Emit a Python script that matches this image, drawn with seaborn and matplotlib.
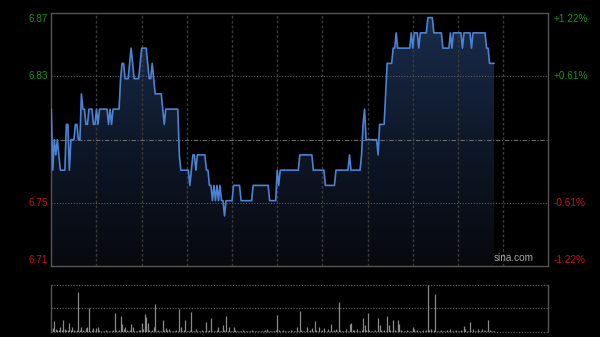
import numpy as np
import pandas as pd
import matplotlib
matplotlib.use("Agg")
import matplotlib.pyplot as plt
import seaborn as sns
from matplotlib.colors import LinearSegmentedColormap
import matplotlib.transforms as mtransforms

prev_close = 6.79

price = [
    6.81, 6.77, 6.79, 6.78, 6.79, 6.78, 6.77, 6.77, 6.77, 6.77,
    6.80, 6.80, 6.77, 6.79, 6.79, 6.79, 6.80, 6.80, 6.79, 6.79,
    6.82, 6.81, 6.81, 6.80, 6.80, 6.81, 6.81, 6.81, 6.80, 6.80,
    6.81, 6.80, 6.81, 6.81, 6.81, 6.81, 6.81, 6.81, 6.80, 6.81,
    6.80, 6.81, 6.81, 6.81, 6.81, 6.81, 6.83, 6.84, 6.84, 6.83,
    6.83, 6.83, 6.84, 6.85, 6.84, 6.83, 6.83, 6.83, 6.83, 6.84,
    6.85, 6.85, 6.85, 6.85, 6.84, 6.83, 6.83, 6.84, 6.83, 6.82,
    6.82, 6.82, 6.82, 6.82, 6.81, 6.80, 6.81, 6.81, 6.81, 6.81,
    6.81, 6.81, 6.81, 6.81, 6.81, 6.78, 6.77, 6.77, 6.77, 6.77,
    6.77, 6.77, 6.76, 6.77, 6.78, 6.78, 6.77, 6.78, 6.78, 6.78,
    6.78, 6.78, 6.78, 6.77, 6.77, 6.76, 6.76, 6.75, 6.76, 6.75,
    6.76, 6.75, 6.76, 6.75, 6.75, 6.74, 6.75, 6.75, 6.75, 6.75,
    6.75, 6.76, 6.76, 6.76, 6.76, 6.76, 6.75, 6.75, 6.75, 6.75,
    6.75, 6.75, 6.75, 6.75, 6.76, 6.76, 6.76, 6.76, 6.76, 6.76,
    6.76, 6.76, 6.76, 6.76, 6.76, 6.75, 6.75, 6.75, 6.75, 6.75,
    6.77, 6.76, 6.77, 6.77, 6.77, 6.77, 6.77, 6.77, 6.77, 6.77,
    6.77, 6.77, 6.77, 6.77, 6.77, 6.78, 6.78, 6.78, 6.78, 6.78,
    6.78, 6.78, 6.78, 6.78, 6.77, 6.77, 6.77, 6.77, 6.77, 6.77,
    6.77, 6.77, 6.76, 6.76, 6.76, 6.76, 6.76, 6.76, 6.76, 6.77,
    6.77, 6.77, 6.77, 6.77, 6.77, 6.77, 6.77, 6.77, 6.78, 6.77,
    6.77, 6.77, 6.77, 6.77, 6.77, 6.77, 6.78, 6.80, 6.81, 6.79,
    6.79, 6.79, 6.79, 6.79, 6.79, 6.79, 6.79, 6.78, 6.80, 6.80,
    6.80, 6.80, 6.82, 6.84, 6.84, 6.84, 6.84, 6.85, 6.85, 6.86,
    6.85, 6.85, 6.85, 6.85, 6.85, 6.85, 6.85, 6.85, 6.85, 6.86,
    6.85, 6.86, 6.86, 6.86, 6.85, 6.86, 6.86, 6.86, 6.86, 6.86,
    6.87, 6.87, 6.87, 6.87, 6.86, 6.86, 6.86, 6.86, 6.86, 6.86,
    6.85, 6.85, 6.85, 6.85, 6.85, 6.86, 6.85, 6.86, 6.86, 6.86,
    6.86, 6.86, 6.86, 6.85, 6.86, 6.86, 6.86, 6.86, 6.86, 6.85,
    6.86, 6.86, 6.86, 6.86, 6.86, 6.86, 6.86, 6.86, 6.86, 6.85,
    6.85, 6.84, 6.84, 6.84, 6.84,
]

volume = [
    11, 8, 23, 5, 3, 4, 11, 3, 26, 5,
    3, 4, 19, 4, 11, 3, 2, 3, 84, 4,
    11, 3, 2, 8, 9, 50, 2, 3, 8, 2,
    8, 10, 3, 2, 1, 2, 3, 1, 2, 2,
    1, 3, 39, 3, 2, 3, 34, 16, 5, 9,
    4, 2, 3, 16, 11, 2, 1, 2, 3, 4,
    19, 5, 38, 31, 18, 3, 2, 3, 9, 59,
    2, 3, 1, 2, 24, 3, 7, 3, 5, 2,
    1, 2, 2, 3, 2, 48, 9, 2, 3, 26,
    2, 1, 3, 43, 2, 1, 5, 2, 1, 2,
    3, 1, 2, 20, 2, 3, 29, 2, 1, 2,
    3, 9, 2, 1, 14, 3, 34, 2, 9, 1,
    2, 11, 3, 1, 2, 2, 1, 3, 2, 1,
    2, 1, 2, 3, 1, 2, 1, 2, 1, 2,
    1, 2, 3, 5, 2, 1, 2, 1, 2, 3,
    36, 3, 2, 1, 4, 2, 1, 2, 1, 3,
    2, 1, 2, 9, 2, 45, 3, 2, 1, 2,
    9, 2, 3, 7, 2, 23, 3, 2, 11, 2,
    3, 7, 2, 1, 5, 2, 16, 2, 3, 5,
    2, 64, 3, 2, 1, 2, 5, 2, 16, 19,
    3, 4, 2, 5, 2, 1, 3, 29, 14, 3,
    39, 3, 2, 1, 2, 3, 2, 29, 14, 3,
    2, 3, 2, 34, 14, 3, 2, 25, 3, 2,
    26, 16, 3, 2, 1, 2, 3, 2, 1, 2,
    9, 5, 2, 3, 2, 1, 2, 3, 2, 4,
    100, 3, 5, 2, 3, 81, 2, 1, 2, 3,
    2, 1, 2, 3, 2, 5, 2, 1, 2, 3,
    2, 1, 3, 2, 12, 5, 2, 1, 20, 2,
    5, 2, 1, 5, 2, 1, 5, 2, 3, 2,
    26, 3, 2, 1, 2,
]

minutes = list(range(len(price)))
session_minutes = 330
pct_levels = [1.22, 0.61, -0.61, -1.22]
left_labels = ["6.87", "6.83", "6.75", "6.71"]
right_labels = ["+1.22%", "+0.61%", "-0.61%", "-1.22%"]

sns.set_theme(style="dark")
plt.rcParams['font.family'] = ['Liberation Sans', 'DejaVu Sans']

W, H = 600, 337
fig = plt.figure(figsize=(W / 100, H / 100), dpi=100, facecolor='black')
ax = fig.add_axes([51.3 / W, 1 - 266 / H, 497 / W, 252.7 / H])
axv = fig.add_axes([51.3 / W, 1 - 331.7 / H, 497 / W, 46.7 / H])

for a in (ax, axv):
    a.set_facecolor('black')
    a.grid(False)
    a.set_xticks([])
    a.set_yticks([])
    for s in a.spines.values():
        s.set_visible(True)
        s.set_color('#555555')
        s.set_linewidth(1.0)

ymin = prev_close * (1 + pct_levels[-1] / 100)
ymax = prev_close * (1 + pct_levels[0] / 100)
ax.set_xlim(0, session_minutes)
ax.set_ylim(ymin, ymax)

df = pd.DataFrame({'minute': minutes, 'price': price})

# gradient area under the line
poly = ax.fill_between(df['minute'], df['price'], ymin, facecolor='none', edgecolor='none')
cmap = LinearSegmentedColormap.from_list('g', ['#07090e', '#0e1829', '#1a2d4c'])
grad = np.linspace(0, 1, 256).reshape(-1, 1)
im = ax.imshow(grad, cmap=cmap, aspect='auto', origin='lower',
               extent=[0, session_minutes, ymin, ymax], zorder=1)
im.set_clip_path(poly.get_paths()[0], transform=ax.transData)

# grid
for m in range(30, session_minutes, 30):
    ax.axvline(m, color='#3a3a3a', lw=1.0, ls=(0, (2, 1.5)), zorder=2)
for p in [pct_levels[1], pct_levels[2]]:
    ax.axhline(prev_close * (1 + p / 100), color='#5c5c5c', lw=0.8, ls=(0, (1, 1.5)), zorder=2)
ax.axhline(prev_close, color='#6a6a6a', lw=0.8, ls=(0, (4, 1.5, 1, 1.5)), zorder=2)

sns.lineplot(data=df, x='minute', y='price', ax=ax, color='#4a82d4', lw=1.2,
             legend=False, zorder=3)
ax.set_xlabel('')
ax.set_ylabel('')
ax.set_xlim(0, session_minutes)
ax.set_ylim(ymin, ymax)
ax.set_xticks([])
ax.set_yticks([])

# axis labels
green, red = '#17961a', '#cc1414'
lt = ax.transAxes + mtransforms.ScaledTranslation(-3.5 / 100, 0, fig.dpi_scale_trans)
rt = ax.transAxes + mtransforms.ScaledTranslation(5 / 100, 0, fig.dpi_scale_trans)
for i, p in enumerate(pct_levels):
    yv = prev_close * (1 + p / 100)
    yf = (yv - ymin) / (ymax - ymin)
    va = 'center'
    if i == 0:
        va = 'top'
        yf = 0.998
    elif i == len(pct_levels) - 1:
        va = 'bottom'
        yf = 0.004
    col = green if p > 0 else red
    ax.text(0, yf, left_labels[i], transform=lt, ha='right', va=va, color=col, fontsize=7.2)
    ax.text(1, yf, right_labels[i], transform=rt, ha='left', va=va, color=col, fontsize=7.2)

ax.text(0.9705, 0.012, 'sina.com', transform=ax.transAxes, ha='right', va='bottom',
        color='#a8a8a8', fontsize=7.2, zorder=4)

# volume panel
vmax = max(volume)
axv.set_xlim(0, session_minutes)
axv.set_ylim(0, vmax)
axv.spines['top'].set_visible(False)
axv.spines['bottom'].set_visible(False)
for lvl in [0, vmax / 2, vmax]:
    axv.axhline(lvl, color='#5c5c5c', lw=0.9, ls=(0, (1, 1.2)), clip_on=False, zorder=1)
axv.vlines(minutes, 0, volume, color='#8a8a8a', lw=0.9, zorder=2)

fig.savefig('out.png', dpi=100, facecolor='black')
